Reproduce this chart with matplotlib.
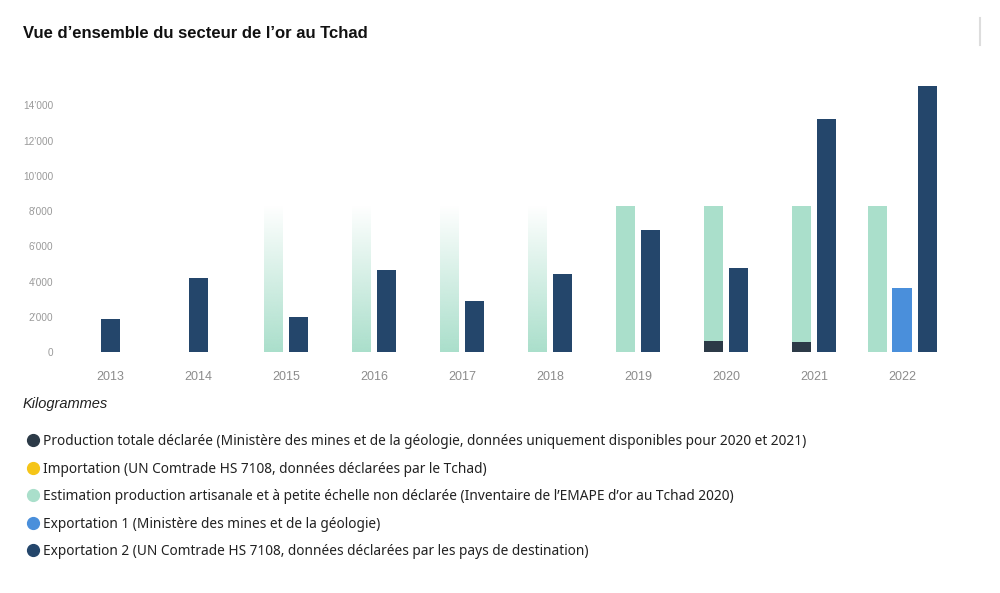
import numpy as np
import matplotlib
matplotlib.use("Agg")
import matplotlib.pyplot as plt
from matplotlib.lines import Line2D
from matplotlib.ticker import FuncFormatter

nan = np.nan
years = ["2013", "2014", "2015", "2016", "2017", "2018", "2019", "2020", "2021", "2022"]
production = [nan, nan, nan, nan, nan, nan, nan, 630, 550, nan]
importation = [nan] * 10
estimation = [nan, nan, 8300, 8300, 8300, 8300, 8300, 8300, 8300, 8300]
estimation_extrapolated = ["2015", "2016", "2017", "2018"]
export1 = [nan, nan, nan, nan, nan, nan, nan, nan, nan, 3650]
export2 = [1900, 4200, 2000, 4650, 2900, 4450, 6900, 4750, 13250, 15100]
yticks = [0, 2000, 4000, 6000, 8000, 10000, 12000, 14000]

legend_labels = [
    "Production totale déclarée (Ministère des mines et de la géologie, données uniquement disponibles pour 2020 et 2021)",
    "Importation (UN Comtrade HS 7108, données déclarées par le Tchad)",
    "Estimation production artisanale et à petite échelle non déclarée (Inventaire de l\u2019EMAPE d\u2019or au Tchad 2020)",
    "Exportation 1 (Ministère des mines et de la géologie)",
    "Exportation 2 (UN Comtrade HS 7108, données déclarées par les pays de destination)",
]

C_PROD = "#2c3a47"
C_IMP = "#f5c518"
C_EST = "#aadfcb"
C_EXP1 = "#4a8fdb"
C_EXP2 = "#24466b"

W, H = 1000, 593
fig = plt.figure(figsize=(W / 100, H / 100), dpi=100)

# axes placement (pixels)
x0_px, x_step = 110, 88
xmin, xmax = -0.6, 9.6
ymin, ymax = 0, 16000
base_px, px_per = 352, 17.62 / 1000
left = (x0_px + xmin * x_step) / W
width = (xmax - xmin) * x_step / W
bottom = 1 - base_px / H
height = (ymax - ymin) * px_per / H
ax = fig.add_axes([left, bottom, width, height])
ax.set_xlim(xmin, xmax)
ax.set_ylim(ymin, ymax)

bar_w = 19 / x_step
step = 25 / x_step

series = [("est", estimation, C_EST), ("imp", importation, C_IMP),
          ("exp1", export1, C_EXP1), ("exp2", export2, C_EXP2)]

grad_cmap = np.zeros((256, 1, 4))
rgb = matplotlib.colors.to_rgb(C_EST)
grad_cmap[..., 0], grad_cmap[..., 1], grad_cmap[..., 2] = rgb
grad_cmap[..., 3] = np.linspace(1.0, 0.0, 256)[:, None] ** 1.0

for i, yr in enumerate(years):
    present = [(k, v[i], c) for k, v, c in series if not np.isnan(v[i])]
    n = len(present)
    for j, (k, val, col) in enumerate(present):
        xc = i + (j - (n - 1) / 2) * step
        if k == "est" and yr in estimation_extrapolated:
            r = ax.bar(xc, val, width=bar_w, color="none", linewidth=0)[0]
            im = ax.imshow(grad_cmap, extent=[xc - bar_w / 2, xc + bar_w / 2, 0, val],
                           origin="lower", aspect="auto", interpolation="bilinear", zorder=2)
            im.set_clip_path(r)
        else:
            ax.bar(xc, val, width=bar_w, color=col, linewidth=0, zorder=2)
        if k == "est" and not np.isnan(production[i]):
            ax.bar(xc, production[i], width=bar_w, color=C_PROD, linewidth=0, zorder=3)

ax.set_xlim(xmin, xmax)
ax.set_ylim(ymin, ymax)
for s in ax.spines.values():
    s.set_visible(False)
ax.set_xticks(range(len(years)))
ax.set_xticklabels(years, fontsize=9, color="#8c8c8c", family="Liberation Sans")
ax.tick_params(axis="x", length=0, pad=13.5)
ax.set_yticks(yticks)
ax.yaxis.set_major_formatter(FuncFormatter(lambda v, p: f"{int(v):,}".replace(",", "\u2019") if v else "0"))
for t in ax.get_yticklabels():
    t.set_fontsize(7.2)
    t.set_color("#999999")
    t.set_family("Liberation Sans")
ax.tick_params(axis="y", length=0, pad=3)

fig.text(23 / W, 1 - 33.5 / H, "Vue d\u2019ensemble du secteur de l\u2019or au Tchad",
         fontsize=12, fontweight="bold", family="Liberation Sans", va="center", ha="left", color="#111111")
fig.text(23 / W, 1 - 404 / H, "Kilogrammes", fontsize=10.5, style="italic",
         family="Liberation Sans", va="center", ha="left", color="#222222")

leg_cols = [C_PROD, C_IMP, C_EST, C_EXP1, C_EXP2]
rows = [440, 468, 495, 523, 550]
for lab, col, ry in zip(legend_labels, leg_cols, rows):
    fig.add_artist(Line2D([33 / W], [1 - ry / H], marker="o", markersize=8.5,
                          markerfacecolor=col, markeredgecolor=col, linestyle="none"))
    fig.text(43 / W, 1 - (ry + 1.5) / H, lab, fontsize=9.85, family="Noto Sans",
             va="center", ha="left", color="#222222")

fig.add_artist(Line2D([980 / W, 980 / W], [1 - 18 / H, 1 - 45 / H], color="#dddddd", linewidth=1.5))

fig.savefig("out.png", dpi=100, facecolor="white")
